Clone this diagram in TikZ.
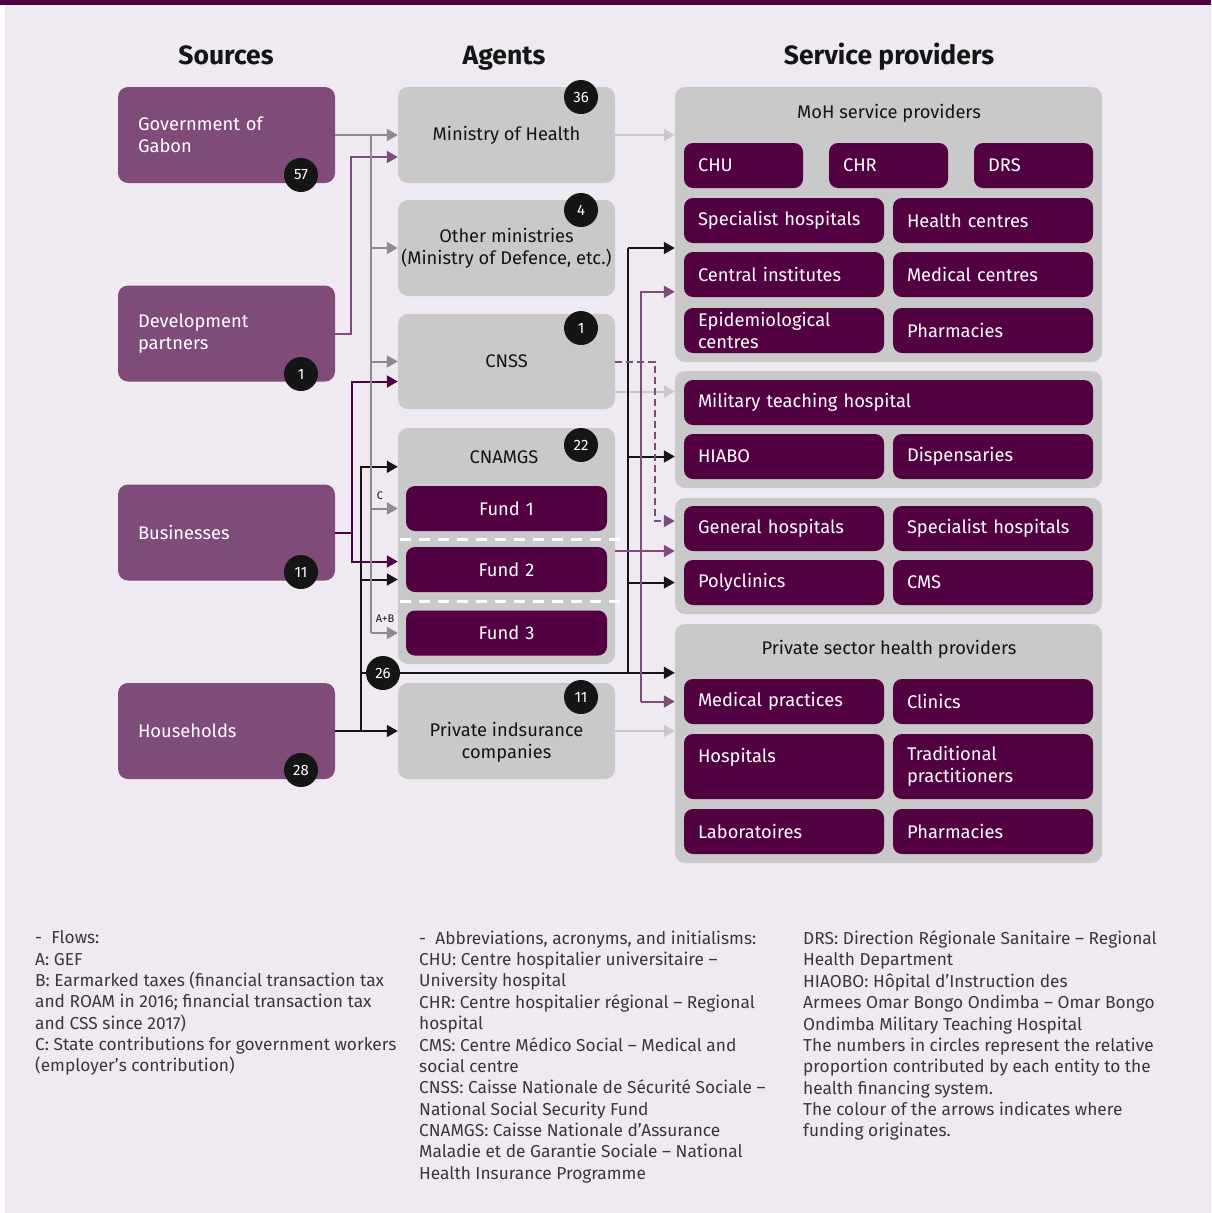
\documentclass[tikz,border=0pt]{standalone}
\usepackage{fontspec}
\setmainfont{Fira Sans}
\usetikzlibrary{arrows.meta,positioning,calc}

\definecolor{bgcol}{HTML}{EFEAF1}
\definecolor{barcol}{HTML}{4E0041}
\definecolor{srccol}{HTML}{7F4B79}
\definecolor{agcol}{HTML}{C8C9C8}
\definecolor{itcol}{HTML}{520041}
\definecolor{lgray}{HTML}{C9C9C9}
\definecolor{mgray}{HTML}{8C8C8C}
\definecolor{inkcol}{HTML}{151515}

\tikzset{
  txt/.style={font=\fontsize{18.3}{22}\selectfont},
  srcbox/.style={txt,fill=srccol,rounded corners=10pt,text=white,minimum width=217pt,minimum height=96pt,text width=177pt,inner xsep=20pt,align=left},
  agbox/.style={txt,fill=agcol,rounded corners=10pt,text=inkcol,minimum width=217pt,minimum height=96pt,inner xsep=1pt,align=center},
  grpbox/.style={fill=agcol,rounded corners=10pt,minimum width=427pt},
  item/.style={txt,fill=itcol,rounded corners=9pt,text=white,minimum height=45pt,inner xsep=14pt,inner ysep=2pt,text width=#1,align=left},
  num/.style={circle,fill=inkcol,text=white,minimum size=34pt,inner sep=0pt,font=\fontsize{15}{15}\selectfont},
  hdr/.style={font=\fontsize{26.5}{26.5}\selectfont\bfseries,text=inkcol,anchor=base},
  lbl/.style={font=\fontsize{11}{11}\selectfont,text=inkcol,inner sep=0pt},
  note/.style={font=\fontsize{17.3}{21.36}\selectfont,text=inkcol!85,align=left,inner sep=0pt,anchor=north west},
  wire/.style={line width=2pt},
  flow/.style={line width=2pt,-{Triangle[length=11pt,width=12pt]}}
}

\begin{document}
\begin{tikzpicture}[x={(1pt,0)},y={(0,-1pt)}]
\useasboundingbox (0,0) rectangle (1211,1213);
\fill[white] (0,0) rectangle (1211,1213);
\fill[bgcol] (5,5) rectangle (1211,1213);
\fill[barcol] (0,0) rectangle (1211,5);

\node[hdr] (hsrc) at (226,64) {Sources};
\node[hdr] (hag) at (504,64) {Agents};
\node[hdr] (hsp) at (889,64) {Service providers};

% sources
\node[srcbox] (gov) at (226.5,135) {Government of\\Gabon};
\node[srcbox] (dev) at (226.5,333.5) {Development\\partners};
\node[srcbox] (bus) at (226.5,532.5) {Businesses};
\node[srcbox] (hh) at (226.5,731) {Households};

% agents
\node[agbox] (moh) at (506.5,135) {Ministry of Health};
\node[agbox] (oth) at (506.5,248) {Other ministries\\(Ministry of Defence, etc.)};
\node[agbox,minimum height=95pt] (cnss) at (506.5,361.5) {CNSS};
\node[agbox,minimum height=236pt] (cnamgs) at (506.5,546) {};
\node[txt,text=inkcol] (cnttl) at (504,457) {CNAMGS};
\node[item=173pt,align=center] (fund1) at (506.5,508.5) {Fund 1};
\node[item=173pt,align=center] (fund2) at (506.5,569.5) {Fund 2};
\node[item=173pt,align=center] (fund3) at (506.5,633) {Fund 3};
\node[agbox] (privins) at (506.5,731) {};
\node[txt,text=inkcol,align=center] (pvttl) at (506.5,742) {Private indsurance\\companies};
\draw[white,line width=3pt,dash pattern=on 11pt off 8pt] (400,539) -- (625,539) (400,601) -- (625,601);

% service providers
\node[grpbox,minimum height=275pt] (mohgrp) at (888.5,224.5) {};
\node[txt,text=inkcol] (mohttl) at (889,113) {MoH service providers};
\node[item=91pt] (chu) at (743.5,165.5) {CHU};
\node[item=91pt] (chr) at (888.5,165.5) {CHR};
\node[item=91pt] (drs) at (1033.5,165.5) {DRS};
\node[item=172pt] (spec) at (784,220.5) {Specialist hospitals};
\node[item=172pt] (hcen) at (993,220.5) {Health centres};
\node[item=172pt] (cins) at (784,274.5) {Central institutes};
\node[item=172pt] (mcen) at (993,274.5) {Medical centres};
\node[item=172pt] (epid) at (784,330.5) {Epidemiological\\centres};
\node[item=172pt] (phar) at (993,330.5) {Pharmacies};

\node[grpbox,minimum height=117pt] (milgrp) at (888.5,429.5) {};
\node[item=381pt] (mth) at (888.5,402.5) {Military teaching hospital};
\node[item=172pt] (hiabo) at (784,456.5) {HIABO};
\node[item=172pt] (disp) at (993,456.5) {Dispensaries};

\node[grpbox,minimum height=116pt] (gengrp) at (888.5,556) {};
\node[item=172pt] (genh) at (784,528.5) {General hospitals};
\node[item=172pt] (spec2) at (993,528.5) {Specialist hospitals};
\node[item=172pt] (poly) at (784,582.5) {Polyclinics};
\node[item=172pt] (cms) at (993,582.5) {CMS};

\node[grpbox,minimum height=239pt] (prvgrp) at (888.5,743.5) {};
\node[txt,text=inkcol] (prvttl) at (889,649) {Private sector health providers};
\node[item=172pt] (medp) at (784,701.5) {Medical practices};
\node[item=172pt] (clin) at (993,701.5) {Clinics};
\node[item=172pt,minimum height=65pt] (hosp) at (784,766.5) {Hospitals\\\mbox{}};
\node[item=172pt,minimum height=65pt] (trad) at (993,766.5) {Traditional\\practitioners};
\node[item=172pt] (labo) at (784,831.5) {Laboratoires};
\node[item=172pt] (phar2) at (993,831.5) {Pharmacies};

% flows into agents
\coordinate (gtrunk) at ($(gov.east)+(36,0)$);
\coordinate (btrunk) at ($(hh.east)+(26,0)$);
\coordinate (cnin) at ($(cnamgs.north west)+(0,39)$);
\coordinate (pvin) at ($(prvgrp.north west)+(0,49)$);
\draw[flow,srccol] (dev.east) -- ++(16,0) |- ($(moh.west)+(0,22)$);
\draw[flow,itcol] (bus.east) -- ++(17,0) |- ($(cnss.west)+(0,20)$);
\draw[flow,itcol] (bus.east) -- ++(17,0) |- ($(cnamgs.west |- fund2)+(0,-8)$);
\draw[flow,inkcol] (hh.east) -- (privins.west);
\draw[flow,inkcol] (btrunk) |- (cnin);
\draw[flow,inkcol] (btrunk |- fund2) ++(0,10) -- ($(cnamgs.west |- fund2)+(0,10)$);
\draw[flow,inkcol] (btrunk |- pvin) -- (pvin);
\draw[flow,mgray] (gov.east) -- (moh.west);
\draw[wire,mgray] (gtrunk) -- (gtrunk |- fund3);
\draw[flow,mgray] (gtrunk |- oth) -- (oth.west);
\draw[flow,mgray] (gtrunk |- cnss) -- (cnss.west);
\draw[flow,mgray] (gtrunk |- fund1) -- (cnamgs.west |- fund1);
\draw[flow,mgray] (gtrunk |- fund3) -- (cnamgs.west |- fund3);
\node[lbl] (lblc) at (380,496) {C};
\node[lbl] (lblab) at (385,619) {A+B};
\node[num] (n26) at (383,673) {26};

% flows into providers
\coordinate (rtrunk) at ($(cnamgs.east)+(13,0)$);
\coordinate (pout) at ($(cnamgs.east)+(0,5)$);
\coordinate (ptrunk) at ($(pout)+(26,0)$);
\coordinate (mohin) at ($(mohgrp.north west)+(0,205)$);
\coordinate (cnsout) at ($(cnss.east)+(0,30)$);
\draw[flow,lgray] (moh.east) -- (mohgrp.west |- moh);
\draw[flow,lgray] (cnsout) -- (milgrp.west |- cnsout);
\draw[flow,lgray] (privins.east) -- (prvgrp.west |- privins);
\draw[wire,inkcol] (rtrunk |- oth) -- (rtrunk |- pvin);
\draw[flow,inkcol] (rtrunk |- oth) -- (mohgrp.west |- oth);
\draw[flow,inkcol] (rtrunk |- hiabo) -- (milgrp.west |- hiabo);
\draw[flow,inkcol] (rtrunk |- poly) -- (gengrp.west |- poly);
\draw[flow,srccol] (pout) -- (gengrp.west |- pout);
\draw[flow,srccol] (ptrunk |- medp) |- (mohin);
\draw[flow,srccol] (ptrunk |- medp) -- (prvgrp.west |- medp);
\draw[flow,srccol,dash pattern=on 7pt off 4pt] (cnss.east) -| ($(gengrp.west)+(-20,-35)$) -- ($(gengrp.west)+(0,-35)$);

% shares
\node[num] (n57) at (301,175) {57};
\node[num] (n1a) at (301,374) {1};
\node[num] (n11a) at (301,572) {11};
\node[num] (n28) at (301,770) {28};
\node[num] (n36) at (581,97) {36};
\node[num] (n4) at (581,210) {4};
\node[num] (n1b) at (581,328) {1};
\node[num] (n22) at (581,445) {22};
\node[num] (n11b) at (581,697) {11};

% notes
\node[note] (nflow) at (35,930.5) {-\ \ Flows:\\A: GEF\\B: Earmarked taxes (financial transaction tax\\and ROAM in 2016; financial transaction tax\\and CSS since 2017)\\C: State contributions for government workers\\(employer's contribution)};
\node[note] (nabbr) at (419,930.5) {-\ \ Abbreviations, acronyms, and initialisms:\\CHU: Centre hospitalier universitaire –\\University hospital\\CHR: Centre hospitalier régional – Regional\\hospital\\CMS: Centre Médico Social – Medical and\\social centre\\CNSS: Caisse Nationale de Sécurité Sociale –\\National Social Security Fund\\CNAMGS: Caisse Nationale d'Assurance\\Maladie et de Garantie Sociale – National\\Health Insurance Programme};
\node[note] (nmore) at (803,930.5) {DRS: Direction Régionale Sanitaire – Regional\\Health Department\\HIAOBO: Hôpital d'Instruction des\\Armees Omar Bongo Ondimba – Omar Bongo\\Ondimba Military Teaching Hospital\\The numbers in circles represent the relative\\proportion contributed by each entity to the\\health financing system.\\The colour of the arrows indicates where\\funding originates.};
\end{tikzpicture}
\end{document}
